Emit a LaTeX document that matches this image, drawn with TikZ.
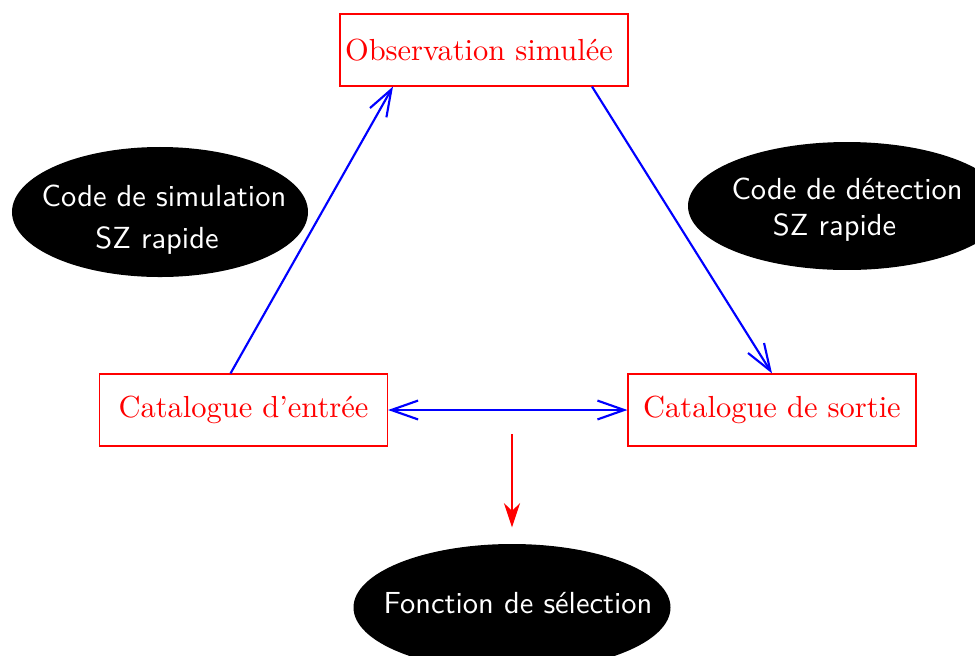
\documentclass[tikz,border=0pt]{standalone}
\usetikzlibrary{arrows.meta,shapes.geometric}
\begin{document}
\begin{tikzpicture}[x=0.328205pt,y=-0.328205pt,
  catbox/.style={draw=red, text=red, line width=0.4pt, minimum width=94.5pt, minimum height=23.6pt, inner sep=0pt},
  bubble/.style={ellipse, fill=black, draw=none, inner sep=0pt},
  bubbletext/.style={text=white, font=\sffamily, align=center, inner sep=0pt},
  bluetip/.tip={Straight Barb[length=8.8pt,width=6.2pt]},
  flow/.style={draw=blue, line width=0.7pt},
  selflow/.style={draw=red, line width=0.75pt, -{Stealth[length=8pt,width=5.3pt]}, shorten >=5.25pt}
]
\useasboundingbox (0,0) rectangle (975,655);

% boxes
\node[catbox] (obs) at (484,50) {Observation simulée\hspace*{3.3pt}};
\node[catbox] (in) at (243.5,410) {Catalogue d’entrée};
\node[catbox] (out) at (772,410) {Catalogue de sortie};

% ellipses
\node[bubble, minimum width=97.15pt, minimum height=42.67pt] (sim) at (160,212) {};
\node[bubbletext] (simtxt) at (164,219.7) {Code de simulation\\[1.55pt]SZ rapide\hspace*{4.6pt}};

\node[bubble, minimum width=104.37pt, minimum height=42pt] (det) at (847,206) {};
\node[bubbletext] (dettxt) at (847,209.6) {Code de détection\\SZ rapide\hspace*{8.2pt}};

\node[bubble, minimum width=104.04pt, minimum height=41.68pt] (sel) at (512,607.5) {};
\node[bubbletext, anchor=base] (seltxt) at (518,613) {Fonction de sélection};

% connectors
\draw[flow, -bluetip] ([xshift=-4.27pt]in.north) -- ([xshift=-29.87pt]obs.south);
\draw[flow, -bluetip] ([xshift=35.45pt]obs.south) -- (out.north);
\draw[flow, bluetip-bluetip] (in.east) -- (out.west);

\coordinate (mid) at (512,434);
\draw[selflow] (mid) -- (sel.north);
\end{tikzpicture}
\end{document}
